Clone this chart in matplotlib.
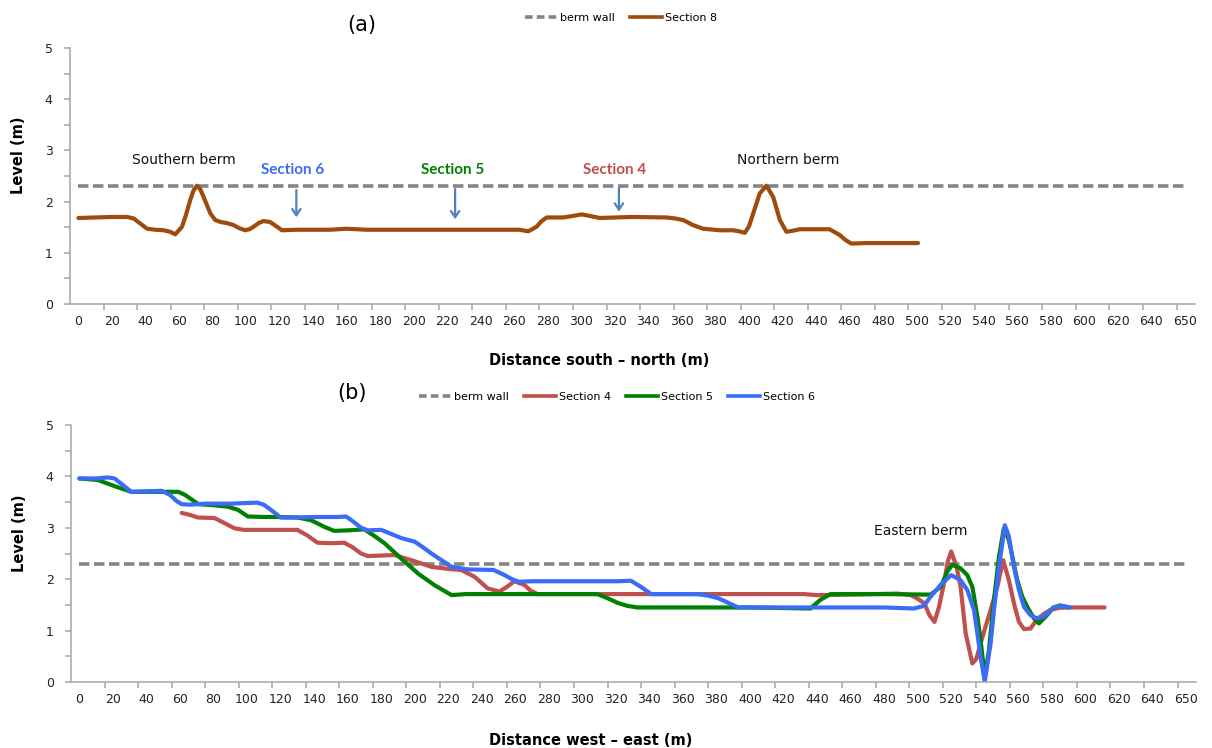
import matplotlib
matplotlib.use('Agg')
import matplotlib.pyplot as plt
from matplotlib.lines import Line2D

plt.rcParams['font.family'] = ['DejaVu Sans']
plt.rcParams['lines.scale_dashes'] = False

# ---------------- data ----------------
tick_values = list(range(0, 641, 20)) + [650]
tick_label_pos = list(range(0, 641, 20)) + [660]   # category axis: 650 sits one step after 640
tick_mark_pos = [15 + 20 * k for k in range(33)]
y_ticks = [0, 1, 2, 3, 4, 5]

berm_x = [0, 660]
berm_level = [2.3, 2.3]

# (a) Section 8, distance south - north
sec8_x = [0, 10, 20, 29, 33, 37, 41, 46, 51, 54.8, 57.8, 61.8, 64, 66.7, 68.7, 70.7, 72.7, 74.7,
          76.7, 78.7, 81.6, 85, 88.6, 92.6, 96, 99.5, 102, 104.5, 107.5, 110.4, 114.4, 118, 121.4,
          130, 150, 160, 172, 200, 250, 263, 268.4, 273.3, 276, 279.3, 289.2, 295, 300.2, 305,
          311, 330, 350.8, 356, 360.7, 366.7, 372.6, 382.6, 390.5, 394, 397.5, 400, 402.5, 406.4,
          410.4, 414.4, 418.4, 422.3, 426, 430.3, 448, 454, 457.5, 461, 470, 500.8]
sec8_y = [1.68, 1.69, 1.70, 1.70, 1.67, 1.57, 1.47, 1.45, 1.44, 1.41, 1.36, 1.51, 1.72, 2.03, 2.22,
          2.31, 2.24, 2.09, 1.93, 1.77, 1.64, 1.60, 1.58, 1.54, 1.48, 1.44, 1.46, 1.51, 1.58, 1.62,
          1.60, 1.52, 1.44, 1.45, 1.45, 1.47, 1.45, 1.45, 1.45, 1.45, 1.42, 1.51, 1.61, 1.69, 1.69,
          1.72, 1.75, 1.72, 1.68, 1.70, 1.69, 1.67, 1.64, 1.54, 1.47, 1.44, 1.44, 1.42, 1.39, 1.52,
          1.77, 2.16, 2.31, 2.09, 1.64, 1.41, 1.43, 1.46, 1.46, 1.35, 1.25, 1.18, 1.19, 1.19]

# (b) Section 4 / 5 / 6, distance west - east
sec4_x = [61, 66, 70.7, 80.6, 86, 92.5, 98, 104.5, 130, 136, 142, 150, 158, 163, 168, 172, 180,
          188, 198, 210, 220, 227.6, 235.6, 243.6, 250.5, 255, 259.4, 265.4, 269, 273.3, 300, 335,
          400, 432, 440, 460, 488, 496, 500, 504, 507, 510, 512.7, 515.7, 518, 520, 523.2, 525.6,
          528.6, 532.6, 535, 537.5, 540.5, 543.5, 547.5, 551, 554.4, 557.4, 560.4, 563.4, 567.3,
          571, 575, 579, 584, 589, 611.5]
sec4_y = [3.29, 3.25, 3.20, 3.19, 3.10, 2.99, 2.96, 2.96, 2.96, 2.85, 2.71, 2.70, 2.71, 2.62, 2.50,
          2.45, 2.46, 2.47, 2.37, 2.24, 2.20, 2.18, 2.05, 1.82, 1.76, 1.85, 1.96, 1.89, 1.78, 1.71,
          1.71, 1.71, 1.71, 1.71, 1.69, 1.70, 1.72, 1.69, 1.62, 1.53, 1.30, 1.17, 1.46, 1.92, 2.35,
          2.54, 2.24, 1.85, 0.95, 0.36, 0.45, 0.75, 1.08, 1.40, 1.85, 2.37, 1.98, 1.53, 1.17, 1.03,
          1.04, 1.21, 1.32, 1.40, 1.44, 1.45, 1.45]

sec5_x = [0, 11, 21, 31, 45, 59, 63, 67, 71, 80, 88.6, 94.6, 100.5, 110, 118, 130, 138, 146, 152,
          160, 170, 176, 182, 192, 202, 212, 222, 230, 241.5, 270, 309, 315, 321, 327, 333, 350,
          400, 436, 442, 448, 460, 480, 507.7, 513.7, 517.7, 520.7, 525.6, 529.6, 532.6, 533.6,
          535.6, 537.5, 540, 542.5, 545.5, 548.5, 551.4, 554.4, 559.4, 562.4, 565.4, 569.3, 572.3,
          576.3, 581, 585, 590]
sec5_y = [3.96, 3.93, 3.81, 3.70, 3.70, 3.70, 3.64, 3.55, 3.46, 3.44, 3.41, 3.35, 3.22, 3.21, 3.21,
          3.20, 3.15, 3.02, 2.94, 2.95, 2.97, 2.84, 2.70, 2.40, 2.11, 1.88, 1.69, 1.71, 1.71, 1.71,
          1.71, 1.63, 1.54, 1.48, 1.45, 1.45, 1.45, 1.43, 1.60, 1.71, 1.71, 1.71, 1.70, 1.85, 2.15,
          2.28, 2.21, 2.08, 1.85, 1.66, 1.27, 0.82, 0.10, 0.62, 1.60, 2.44, 2.99, 2.76, 1.98, 1.66,
          1.46, 1.24, 1.14, 1.27, 1.45, 1.49, 1.45]

sec6_x = [0, 10, 17, 21, 26, 31, 40, 49, 54, 58, 61, 66, 75, 90, 106, 110, 115, 120, 127, 140, 154,
          159, 163, 168, 172, 180, 186, 192, 200, 205, 210, 216, 222, 232, 247, 253, 258, 262, 270,
          300, 321, 329, 335, 341, 350, 369, 375, 381, 387, 393, 420, 450, 480, 497.8, 503.7,
          507.7, 513.7, 520, 525.6, 529.6, 533.6, 535.6, 537.5, 540, 543.5, 545.5, 548.5, 552,
          554.4, 557.4, 560.4, 563.4, 567.3, 571, 575.3, 581, 586.2, 591]
sec6_y = [3.96, 3.96, 3.98, 3.96, 3.83, 3.70, 3.71, 3.72, 3.64, 3.52, 3.46, 3.45, 3.47, 3.47, 3.49,
          3.45, 3.33, 3.20, 3.20, 3.21, 3.21, 3.22, 3.13, 3.00, 2.95, 2.96, 2.88, 2.80, 2.73, 2.62,
          2.50, 2.37, 2.24, 2.19, 2.18, 2.09, 2.00, 1.95, 1.96, 1.96, 1.96, 1.97, 1.85, 1.71, 1.71,
          1.71, 1.68, 1.63, 1.54, 1.45, 1.45, 1.45, 1.45, 1.43, 1.48, 1.66, 1.89, 2.08, 1.98, 1.79,
          1.40, 0.95, 0.49, 0.01, 0.75, 1.40, 2.24, 3.05, 2.83, 2.24, 1.79, 1.46, 1.30, 1.24, 1.27,
          1.45, 1.48, 1.45]

# ---------------- styling ----------------
GRAY_AX = '#a6a6a6'
DASH = (0, (7.5, 3.3))
C_BERM = '#858585'
C8 = '#9e4b0e'
C4 = '#c0504d'
C5 = '#008000'
C6 = '#3a6cf5'
C_ARROW = '#4f81bd'
LW = 2.6

W, H = 1212, 748
fig = plt.figure(figsize=(W / 100, H / 100), dpi=100)
ax_a = fig.add_axes([70 / W, 1 - 304 / H, 1125 / W, 256 / H])
ax_b = fig.add_axes([71 / W, 1 - 682 / H, 1125 / W, 257 / H])


def style(ax):
    ax.set_xlim(-5, 666)
    ax.set_ylim(0, 5)
    for s in ['top', 'right']:
        ax.spines[s].set_visible(False)
    for s in ['left', 'bottom']:
        ax.spines[s].set_color(GRAY_AX)
        ax.spines[s].set_linewidth(1.1)
    ax.set_xticks(tick_mark_pos)
    ax.set_xticklabels([])
    ax.set_xticks(tick_label_pos, minor=True)
    ax.set_xticklabels([str(v) for v in tick_values], minor=True)
    ax.tick_params(axis='x', which='major', length=4, width=1.1, color=GRAY_AX, direction='out')
    ax.tick_params(axis='x', which='minor', length=0, pad=8, labelsize=9, labelcolor='#222222')
    ax.set_yticks(y_ticks)
    ax.set_yticklabels([str(v) for v in y_ticks])
    ax.set_yticks([v + 0.5 for v in y_ticks[:-1]], minor=True)
    ax.tick_params(axis='y', which='both', length=4, width=1.1, color=GRAY_AX, direction='out')
    ax.tick_params(axis='y', which='major', pad=8.5, labelsize=9, labelcolor='#222222')


# ----- panel (a) -----
style(ax_a)
ax_a.plot(berm_x, berm_level, color=C_BERM, lw=LW, linestyle=DASH, solid_capstyle='butt')
ax_a.plot(sec8_x, sec8_y, color=C8, lw=LW + 0.4, solid_joinstyle='round', solid_capstyle='round')

ax_a.text(32, 2.81, 'Southern berm', fontsize=10, va='center', ha='left', color='#111111')
ax_a.text(392.7, 2.81, 'Northern berm', fontsize=10, va='center', ha='left', color='#111111')
for txt, xt, xa, y0, y1, col in [('Section 6', 127.5, 130, 2.28, 1.64, C6),
                                  ('Section 5', 223, 224.7, 2.30, 1.60, C5),
                                  ('Section 4', 320, 322.4, 2.32, 1.75, C4)]:
    ax_a.text(xt, 2.61, txt, fontsize=11, fontweight='bold', family=['Lato', 'DejaVu Sans'],
              color=col, ha='center', va='center')
    ax_a.annotate('', xy=(xa, y1), xytext=(xa, y0),
                  arrowprops=dict(arrowstyle='->,head_length=0.45,head_width=0.3',
                                  color=C_ARROW, lw=1.6))

ax_a.set_ylabel('Level (m)', fontsize=10.5, fontweight='bold')
ax_a.yaxis.set_label_coords(-0.046, 0.58)
ax_a.set_xlabel('Distance south – north (m)', fontsize=10.5, fontweight='bold')
ax_a.xaxis.set_label_coords(0.47, -0.22)
ax_a.xaxis.label.set_va('center')
ax_a.yaxis.label.set_va('center')

fig.text(362 / W, 1 - 25 / H, '(a)', fontsize=15, ha='center', va='center')
h_a = [Line2D([], [], color=C_BERM, lw=LW, linestyle=(0, (5.5, 3))),
       Line2D([], [], color=C8, lw=LW)]
fig.legend(h_a, ['berm wall', 'Section 8'], loc='center', bbox_to_anchor=(621 / W, 1 - 18 / H),
           ncol=2, frameon=False, fontsize=8, handlelength=2.9, handletextpad=0.3,
           columnspacing=1.3)

# ----- panel (b) -----
style(ax_b)
ax_b.plot(berm_x, berm_level, color=C_BERM, lw=LW, linestyle=DASH, solid_capstyle='butt')
ax_b.plot(sec4_x, sec4_y, color=C4, lw=LW + 0.4, solid_joinstyle='round', solid_capstyle='round')
ax_b.plot(sec5_x, sec5_y, color=C5, lw=LW + 0.4, solid_joinstyle='round', solid_capstyle='round')
ax_b.plot(sec6_x, sec6_y, color=C6, lw=LW + 0.4, solid_joinstyle='round', solid_capstyle='round')
ax_b.text(473.8, 2.94, 'Eastern berm', fontsize=10, va='center', ha='left', color='#111111')

ax_b.set_ylabel('Level (m)', fontsize=10.5, fontweight='bold')
ax_b.yaxis.set_label_coords(-0.046, 0.58)
ax_b.set_xlabel('Distance west – east (m)', fontsize=10.5, fontweight='bold')
ax_b.xaxis.set_label_coords(0.462, -0.226)
ax_b.xaxis.label.set_va('center')
ax_b.yaxis.label.set_va('center')

fig.text(352 / W, 1 - 393 / H, '(b)', fontsize=15, ha='center', va='center')
h_b = [Line2D([], [], color=C_BERM, lw=LW, linestyle=(0, (5.5, 3))),
       Line2D([], [], color=C4, lw=LW),
       Line2D([], [], color=C5, lw=LW),
       Line2D([], [], color=C6, lw=LW)]
fig.legend(h_b, ['berm wall', 'Section 4', 'Section 5', 'Section 6'], loc='center',
           bbox_to_anchor=(617 / W, 1 - 397 / H), ncol=4, frameon=False, fontsize=8,
           handlelength=2.9, handletextpad=0.3, columnspacing=1.3)

fig.savefig('out.png', dpi=100)
